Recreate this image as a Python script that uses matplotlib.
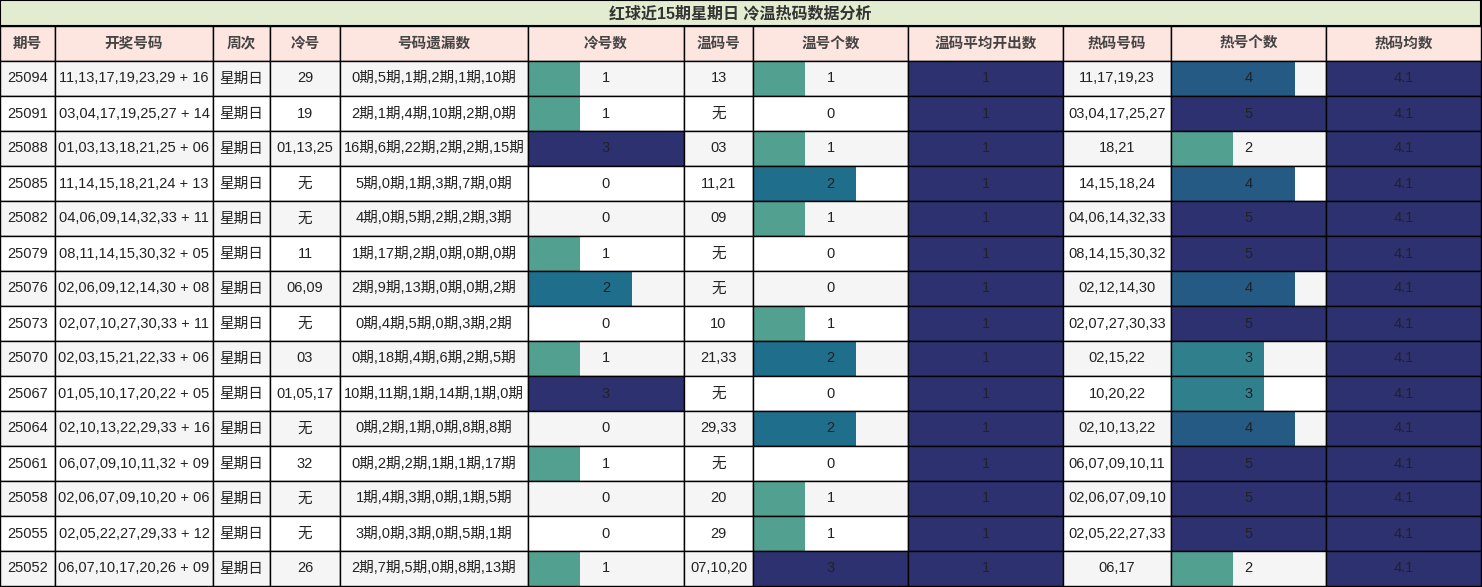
import matplotlib
matplotlib.use("Agg")
import matplotlib.pyplot as plt
from matplotlib.colors import LinearSegmentedColormap
from matplotlib import font_manager

names = {f.name for f in font_manager.fontManager.ttflist}
base = "Liberation Sans Narrow" if "Liberation Sans Narrow" in names else "Liberation Sans"
plt.rcParams["font.family"] = [base, "Noto Sans CJK SC"]

title = "红球近15期星期日 冷温热码数据分析"
headers = ["期号", "开奖号码", "周次", "冷号", "号码遗漏数", "冷号数", "温码号", "温号个数",
           "温码平均开出数", "热码号码", "热号个数", "热码均数"]
periods = ["25094", "25091", "25088", "25085", "25082", "25079", "25076", "25073",
           "25070", "25067", "25064", "25061", "25058", "25055", "25052"]
draws = ["11,13,17,19,23,29 + 16", "03,04,17,19,25,27 + 14", "01,03,13,18,21,25 + 06",
         "11,14,15,18,21,24 + 13", "04,06,09,14,32,33 + 11", "08,11,14,15,30,32 + 05",
         "02,06,09,12,14,30 + 08", "02,07,10,27,30,33 + 11", "02,03,15,21,22,33 + 06",
         "01,05,10,17,20,22 + 05", "02,10,13,22,29,33 + 16", "06,07,09,10,11,32 + 09",
         "02,06,07,09,10,20 + 06", "02,05,22,27,29,33 + 12", "06,07,10,17,20,26 + 09"]
weekday = ["星期日"] * 15
cold_nums = ["29", "19", "01,13,25", "无", "无", "11", "06,09", "无", "03", "01,05,17",
             "无", "32", "无", "无", "26"]
misses = ["0期,5期,1期,2期,1期,10期", "2期,1期,4期,10期,2期,0期", "16期,6期,22期,2期,2期,15期",
          "5期,0期,1期,3期,7期,0期", "4期,0期,5期,2期,2期,3期", "1期,17期,2期,0期,0期,0期",
          "2期,9期,13期,0期,0期,2期", "0期,4期,5期,0期,3期,2期", "0期,18期,4期,6期,2期,5期",
          "10期,11期,1期,14期,1期,0期", "0期,2期,1期,0期,8期,8期", "0期,2期,2期,1期,1期,17期",
          "1期,4期,3期,0期,1期,5期", "3期,0期,3期,0期,5期,1期", "2期,7期,5期,0期,8期,13期"]
cold_cnt = [1, 1, 3, 0, 0, 1, 2, 0, 1, 3, 0, 1, 0, 0, 1]
warm_nums = ["13", "无", "03", "11,21", "09", "无", "无", "10", "21,33", "无", "29,33", "无",
             "20", "29", "07,10,20"]
warm_cnt = [1, 0, 1, 2, 1, 0, 0, 1, 2, 0, 2, 0, 1, 1, 3]
warm_avg = [1] * 15
hot_nums = ["11,17,19,23", "03,04,17,25,27", "18,21", "14,15,18,24", "04,06,14,32,33",
            "08,14,15,30,32", "02,12,14,30", "02,07,27,30,33", "02,15,22", "10,20,22",
            "02,10,13,22", "06,07,09,10,11", "02,06,07,09,10", "02,05,22,27,33", "06,17"]
hot_cnt = [4, 5, 2, 4, 5, 5, 4, 5, 3, 3, 4, 5, 5, 5, 2]
hot_avg = [4.1] * 15

col_x = [0, 55, 213, 270, 340, 528, 684, 753, 908, 1063, 1171, 1326, 1481]
W, H = 1482, 587
title_h, head_h, row_h = 26, 35, 35
cmap = LinearSegmentedColormap.from_list("bars", ["#52a08f", "#1f6e8c", "#2d3170"])

fig = plt.figure(figsize=(W / 100, H / 100), dpi=100)
ax = fig.add_axes([0, 0, 1, 1])
ax.set_xlim(0, W)
ax.set_ylim(H, 0)
ax.axis("off")

ax.add_patch(plt.Rectangle((0, 0), col_x[-1], title_h, facecolor="#e2ecd0", edgecolor="black", lw=1.5))
ax.text(col_x[-1] / 2, title_h / 2, title, ha="center", va="center", fontsize=11.5,
        fontweight="bold", color="#333333")

y0 = title_h
for i, h in enumerate(headers):
    ax.add_patch(plt.Rectangle((col_x[i], y0), col_x[i + 1] - col_x[i], head_h,
                               facecolor="#fde5e0", edgecolor="black", lw=1))
    ax.text((col_x[i] + col_x[i + 1]) / 2, y0 + head_h / 2, h, ha="center", va="center",
            fontsize=10.5, fontweight="bold", color="#444444")

columns = [periods, draws, weekday, cold_nums, misses, cold_cnt, warm_nums, warm_cnt,
           warm_avg, hot_nums, hot_cnt, hot_avg]
bar_cols = {5: cold_cnt, 7: warm_cnt, 8: warm_avg, 10: hot_cnt, 11: hot_avg}

for r in range(len(periods)):
    y = title_h + head_h + r * row_h
    bg = "#f5f5f5" if r % 2 == 0 else "white"
    for c, col in enumerate(columns):
        x, w = col_x[c], col_x[c + 1] - col_x[c]
        ax.add_patch(plt.Rectangle((x, y), w, row_h, facecolor=bg, edgecolor="none"))
        if c in bar_cols:
            vals = bar_cols[c]
            vmax, vmin = max(vals), min(v for v in vals if v > 0)
            v = vals[r]
            if v > 0:
                t = 1.0 if vmax == vmin else (v - vmin) / (vmax - vmin)
                ax.add_patch(plt.Rectangle((x, y), w * v / vmax, row_h,
                                           facecolor=cmap(t), edgecolor="none"))
        ax.add_patch(plt.Rectangle((x, y), w, row_h, facecolor="none", edgecolor="black", lw=1))
        ax.text(x + w / 2, y + row_h / 2, str(col[r]), ha="center", va="center",
                fontsize=10.5, color="#222222")

fig.savefig("out.png", dpi=100)
